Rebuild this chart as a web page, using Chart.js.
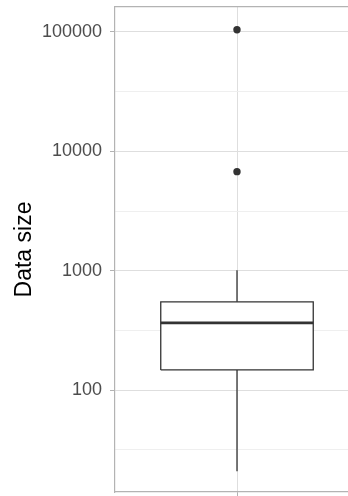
<!DOCTYPE html>
<html>
<head>
<meta charset="utf-8">
<script src="https://cdn.jsdelivr.net/npm/chart.js@4/dist/chart.umd.min.js"></script>
<style>
  html, body { margin: 0; padding: 0; background: #ffffff; overflow: hidden; }
  #wrap { width: 366px; height: 496px; }
</style>
</head>
<body>
<div id="wrap"><canvas id="c" width="366" height="496"></canvas></div>
<script>
// ---- data ----
const categories = ['Data size'];
const whiskerLow = [21];
const q1 = [148];
const median = [366];
const q3 = [550];
const whiskerHigh = [1010];
const outliers = [6760, 104300];
const yMajorTicks = [100, 1000, 10000, 100000];
const yMinorTicks = [31.6, 316, 3162, 31623];

// ---- layout / style ----
const boxHalf = 0.375;       // ggplot box width 0.75 in category units
const xPos = 0;              // category position
const dark = '#333333';

const datasets = [
  { // outliers
    type: 'scatter', label: 'outliers',
    data: outliers.map(v => ({ x: xPos, y: v })),
    pointRadius: 3.7, pointBackgroundColor: dark, pointBorderWidth: 0, showLine: false
  },
  { // median
    type: 'line', label: 'median',
    data: [{ x: xPos - boxHalf, y: median[0] }, { x: xPos + boxHalf, y: median[0] }],
    borderColor: dark, borderWidth: 2.6, pointRadius: 0, fill: false
  },
  { // box outline
    type: 'line', label: 'box',
    data: [
      { x: xPos - boxHalf, y: q1[0] }, { x: xPos + boxHalf, y: q1[0] },
      { x: xPos + boxHalf, y: q3[0] }, { x: xPos - boxHalf, y: q3[0] },
      { x: xPos - boxHalf, y: q1[0] }
    ],
    borderColor: dark, borderWidth: 1.3, pointRadius: 0, fill: false
  },
  { // upper whisker
    type: 'line', label: 'whiskerHigh',
    data: [{ x: xPos, y: q3[0] }, { x: xPos, y: whiskerHigh[0] }],
    borderColor: dark, borderWidth: 1.3, pointRadius: 0, fill: false
  },
  { // lower whisker
    type: 'line', label: 'whiskerLow',
    data: [{ x: xPos, y: whiskerLow[0] }, { x: xPos, y: q1[0] }],
    borderColor: dark, borderWidth: 1.3, pointRadius: 0, fill: false
  },
  { // white box fill (drawn first)
    type: 'line', label: 'boxFill',
    data: [{ x: xPos - boxHalf, y: q3[0] }, { x: xPos + boxHalf, y: q3[0] }],
    borderWidth: 0, borderColor: 'rgba(0,0,0,0)', pointRadius: 0,
    backgroundColor: '#ffffff', fill: { value: q1[0] }
  }
];

const isMajor = v => yMajorTicks.some(t => Math.abs(t - v) < 1e-6);

new Chart(document.getElementById('c'), {
  type: 'line',
  data: { datasets },
  options: {
    responsive: false,
    animation: false,
    layout: { padding: { top: 7, right: 7, bottom: 0, left: 0 } },
    plugins: { legend: { display: false }, tooltip: { enabled: false } },
    scales: {
      x: {
        type: 'linear', position: 'bottom', min: -0.6, max: 0.6, offset: false,
        afterBuildTicks: s => { s.ticks = [{ value: xPos }]; },
        afterFit: s => { s.height = 3; s.paddingLeft = 0; s.paddingRight = 0; },
        ticks: { display: false },
        grid: { color: '#dedede', lineWidth: 1, tickLength: 4, tickColor: '#b3b3b3', tickWidth: 1 },
        border: { display: true, color: '#b3b3b3', width: 1.2 }
      },
      x2: {
        type: 'linear', position: 'top', axis: 'x', min: -0.6, max: 0.6,
        afterFit: s => { s.height = 0; s.paddingLeft = 0; s.paddingRight = 0; },
        ticks: { display: false },
        grid: { display: false, drawTicks: false },
        border: { display: true, color: '#b3b3b3', width: 1.2 }
      },
      y: {
        type: 'logarithmic', position: 'left', min: 14.06, max: 161500,
        afterBuildTicks: s => {
          s.ticks = yMinorTicks.concat(yMajorTicks).sort((a, b) => a - b).map(v => ({ value: v }));
        },
        afterFit: s => { s.width = 115; s.paddingTop = 0; s.paddingBottom = 0; },
        ticks: {
          autoSkip: false,
          padding: 8,
          color: '#4d4d4d',
          font: { family: '"Liberation Sans", Arial, sans-serif', size: 18 },
          callback: v => isMajor(v) ? String(v) : ''
        },
        grid: {
          color: c => (c.tick && isMajor(c.tick.value)) ? '#dedede' : '#ededed',
          lineWidth: c => (c.tick && isMajor(c.tick.value)) ? 1 : 0.9,
          tickLength: 5,
          tickColor: c => (c.tick && isMajor(c.tick.value)) ? '#b3b3b3' : 'rgba(0,0,0,0)',
          tickWidth: 1
        },
        border: { display: true, color: '#b3b3b3', width: 1.2 },
        title: {
          display: true, text: categories[0],
          color: '#000000',
          font: { family: '"Liberation Sans", Arial, sans-serif', size: 23 },
          padding: { top: 11, bottom: 0 }
        }
      }
    }
  }
});
</script>
</body>
</html>
